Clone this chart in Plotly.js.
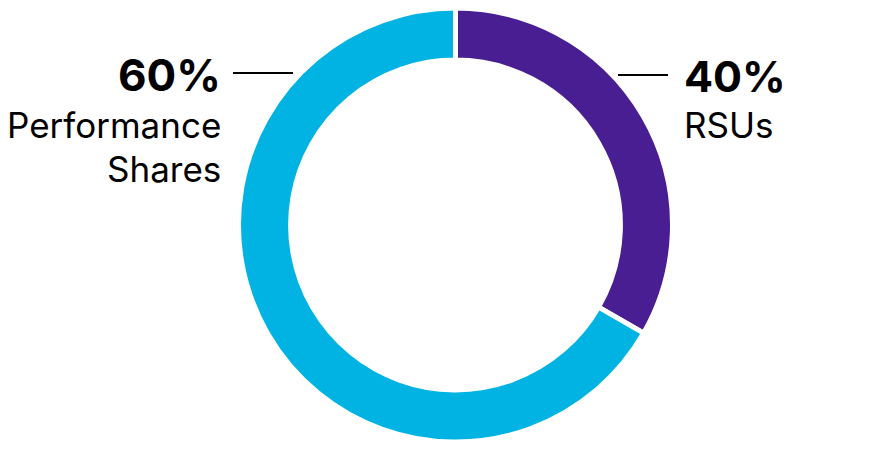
<!DOCTYPE html>
<html>
<head>
<meta charset="utf-8">
<script src="https://cdn.plot.ly/plotly-3.0.1.min.js"></script>
<style>html,body{margin:0;padding:0;background:#fff;}#chart{width:881px;height:449px;}</style>
</head>
<body>
<div id="chart"></div>
<script>
// Data
const categories = ['RSUs', 'Performance Shares'];
const sliceValues = [33.3, 66.7];           // drawn slice sizes as measured in the picture
const percentLabels = ['40%', '60%'];       // printed labels
const sliceColors = ['#481E92', '#00B3E3'];

const W = 881, H = 449;
const px = x => x / W;
const py = y => 1 - y / H;

const cx = 455.5, cy = 225, R = 217;

const data = [{
  type: 'pie',
  labels: categories,
  values: sliceValues,
  hole: 0.76,
  sort: false,
  direction: 'clockwise',
  rotation: 0,
  textinfo: 'none',
  hoverinfo: 'label+value',
  marker: {colors: sliceColors, line: {color: '#ffffff', width: 5}},
  domain: {x: [px(cx - R), px(cx + R)], y: [py(cy + R), py(cy - R)]},
  showlegend: false
}];

const FONT = 'Inter, "Open Sans", sans-serif';
const annotations = [
  {text: '<b>' + percentLabels[1] + '</b>', x: px(222), y: py(75), xanchor: 'right', yanchor: 'middle', font: {size: 44, color: '#000', family: FONT}},
  {text: 'Performance', x: px(222), y: py(125), xanchor: 'right', yanchor: 'middle', font: {size: 35, color: '#000', family: FONT}},
  {text: 'Shares', x: px(222), y: py(169), xanchor: 'right', yanchor: 'middle', font: {size: 35, color: '#000', family: FONT}},
  {text: '<b>' + percentLabels[0] + '</b>', x: px(683), y: py(76), xanchor: 'left', yanchor: 'middle', font: {size: 43, color: '#000', family: FONT}},
  {text: categories[0], x: px(683), y: py(125), xanchor: 'left', yanchor: 'middle', font: {size: 35, color: '#000', family: FONT}}
].map(a => Object.assign({xref: 'paper', yref: 'paper', showarrow: false, borderpad: 0}, a));

const shapes = [
  {type: 'line', xref: 'paper', yref: 'paper', x0: px(233), x1: px(293), y0: py(73), y1: py(73), line: {color: '#000', width: 2}},
  {type: 'line', xref: 'paper', yref: 'paper', x0: px(618), x1: px(668), y0: py(75), y1: py(75), line: {color: '#000', width: 2}}
];

const layout = {
  width: W, height: H,
  margin: {l: 0, r: 0, t: 0, b: 0},
  paper_bgcolor: '#fff', plot_bgcolor: '#fff',
  annotations: annotations,
  shapes: shapes
};

Plotly.newPlot('chart', data, layout, {displayModeBar: false, staticPlot: true});
</script>
</body>
</html>
